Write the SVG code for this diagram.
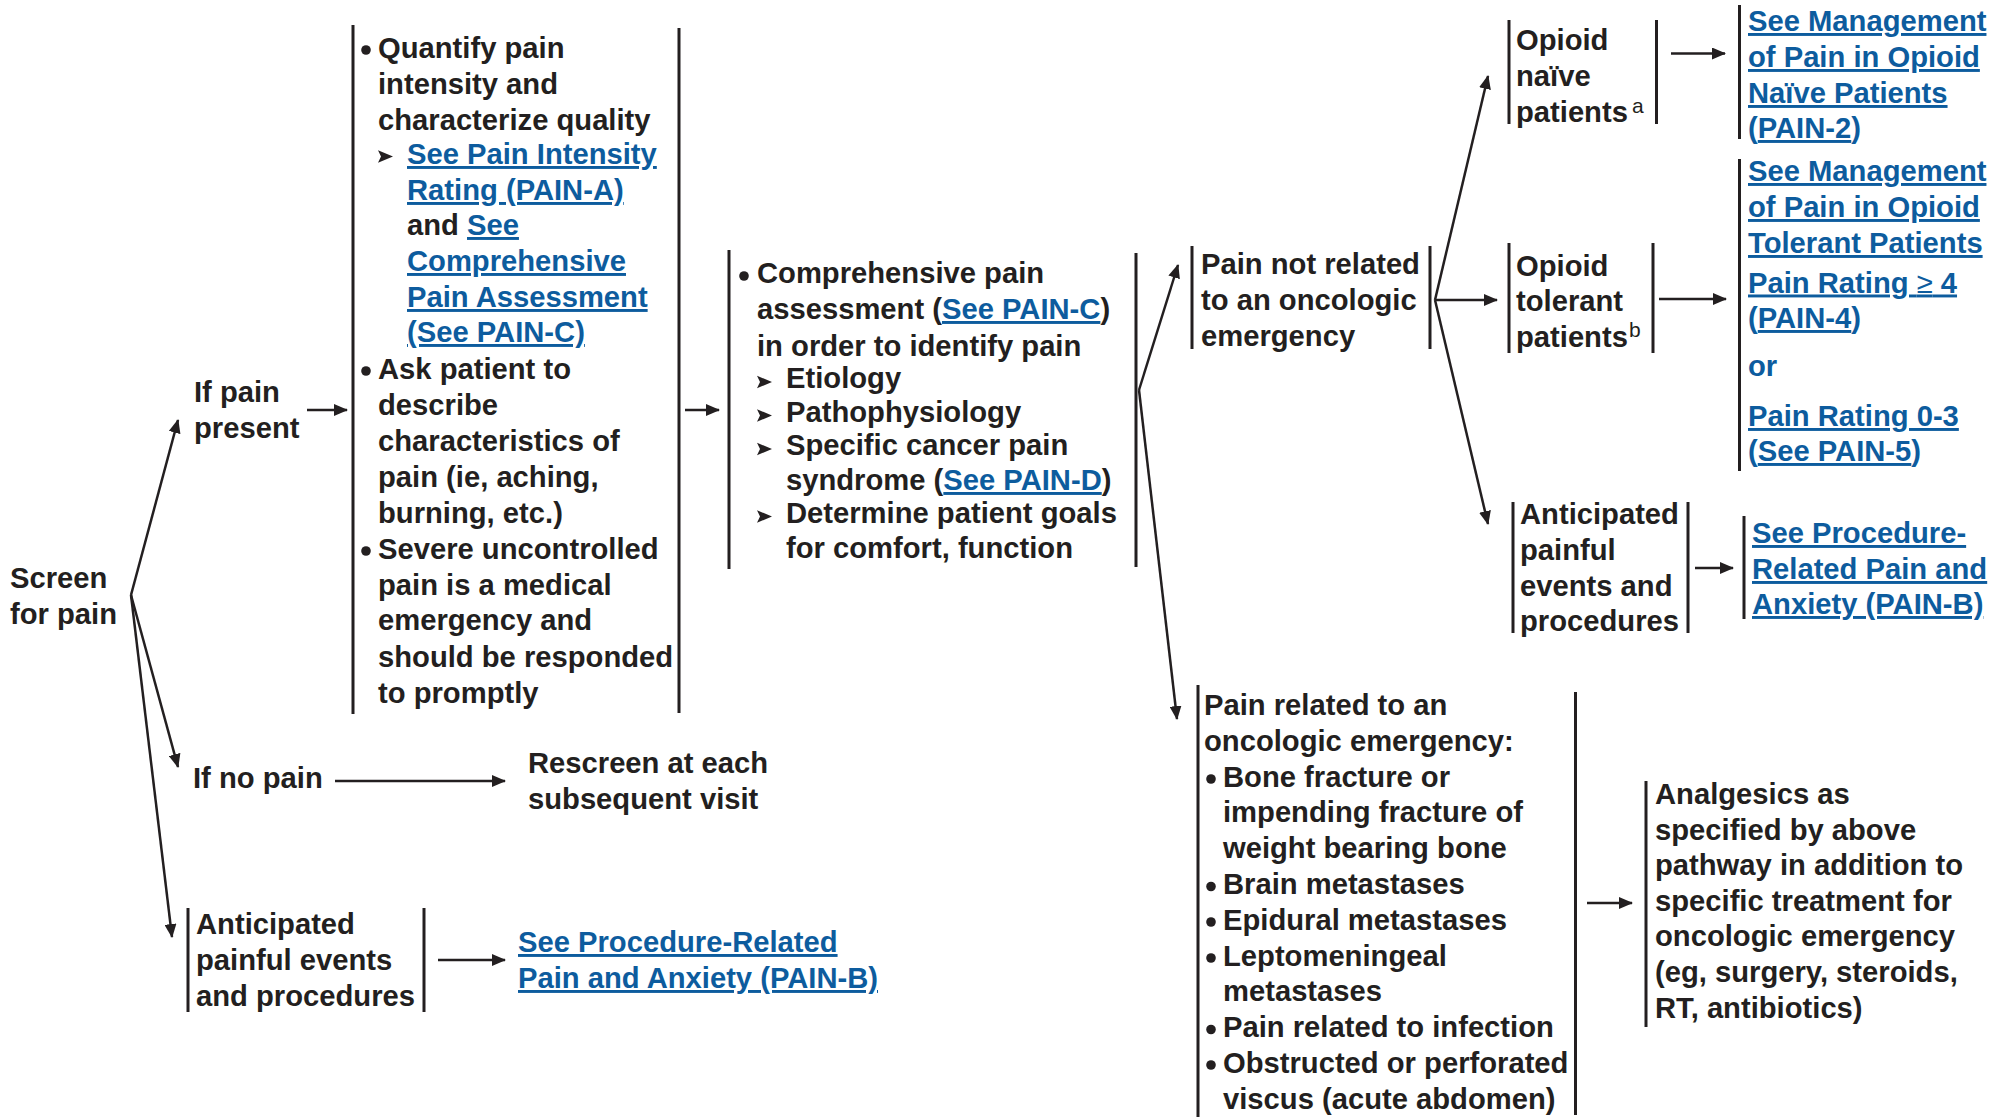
<svg xmlns="http://www.w3.org/2000/svg" xmlns:xlink="http://www.w3.org/1999/xlink" width="2002" height="1117" viewBox="0 0 2002 1117">
  <style>
    .t { font-family: "Liberation Sans", Arial, Helvetica, sans-serif; font-weight: 700; font-size: 29.2px; fill: #231f20; }
    .blue { fill: #0d5c9e; }
    .lk { fill: #0d5c9e; text-decoration: underline; }
    .sup { font-size: 21px; font-weight: 400; }
    .thin { font-weight: 400; }
    .bar { stroke: #231f20; stroke-width: 3; fill: none; }
    .conn { stroke: #231f20; stroke-width: 2.5; fill: none; marker-end: url(#ah); }
    .dot { fill: #231f20; }
  </style>
  <defs>
    <marker id="ah" markerUnits="userSpaceOnUse" markerWidth="15" markerHeight="12" refX="13" refY="6" orient="auto">
      <path d="M0,0 L14,6 L0,12 z" fill="#231f20"/>
    </marker>
    <path id="tri" d="M0,-6.3 L15,0 L0,6.3 L3,0 z" fill="#231f20"/>
  </defs>

  <rect width="2002" height="1117" fill="#ffffff"/>

  <!-- Connectors -->
  <g id="connectors">
    <line class="conn" x1="131" y1="595" x2="178" y2="420"/>
    <line class="conn" x1="131" y1="595" x2="178" y2="767"/>
    <line class="conn" x1="131" y1="595" x2="172" y2="937"/>
    <line class="conn" x1="307" y1="410" x2="347" y2="410"/>
    <line class="conn" x1="685" y1="410" x2="719" y2="410"/>
    <line class="conn" x1="1139" y1="390" x2="1178" y2="265"/>
    <line class="conn" x1="1139" y1="390" x2="1177" y2="719"/>
    <line class="conn" x1="1435" y1="300" x2="1488" y2="76"/>
    <line class="conn" x1="1435" y1="300" x2="1497" y2="300"/>
    <line class="conn" x1="1435" y1="300" x2="1488" y2="524"/>
    <line class="conn" x1="1671" y1="53.5" x2="1725" y2="53.5"/>
    <line class="conn" x1="1659" y1="299" x2="1726" y2="299"/>
    <line class="conn" x1="1695" y1="568" x2="1733" y2="568"/>
    <line class="conn" x1="335" y1="781" x2="505" y2="781"/>
    <line class="conn" x1="438" y1="960" x2="505" y2="960"/>
    <line class="conn" x1="1587" y1="903" x2="1632" y2="903"/>
  </g>

  <!-- Screen for pain -->
  <g id="screen">
    <text class="t"><tspan x="10" y="588">Screen</tspan><tspan x="10" y="624">for pain</tspan></text>
  </g>

  <!-- If pain present -->
  <g id="if-pain">
    <text class="t"><tspan x="194" y="402">If pain</tspan><tspan x="194" y="437.5">present</tspan></text>
  </g>

  <!-- Initial assessment -->
  <g id="assess">
    <line class="bar" x1="353" y1="25" x2="353" y2="714"/>
    <line class="bar" x1="679" y1="28" x2="679" y2="713"/>
    <circle class="dot" cx="366" cy="50" r="4.8"/>
    <circle class="dot" cx="366" cy="371" r="4.8"/>
    <circle class="dot" cx="366" cy="551" r="4.8"/>
    <use xlink:href="#tri" x="378" y="156.5"/>
    <text class="t">
      <tspan x="378" y="58">Quantify pain</tspan>
      <tspan x="378" y="94">intensity and</tspan>
      <tspan x="378" y="130">characterize quality</tspan>
      <tspan x="407" y="164" class="lk">See Pain Intensity</tspan>
      <tspan x="407" y="200" class="lk">Rating (PAIN-A)</tspan>
      <tspan x="407" y="235">and <tspan class="lk">See</tspan></tspan>
      <tspan x="407" y="271" class="lk">Comprehensive</tspan>
      <tspan x="407" y="307" class="lk">Pain Assessment</tspan>
      <tspan x="407" y="342" class="lk">(See PAIN-C)</tspan>
      <tspan x="378" y="379">Ask patient to</tspan>
      <tspan x="378" y="415">describe</tspan>
      <tspan x="378" y="451">characteristics of</tspan>
      <tspan x="378" y="487">pain (ie, aching,</tspan>
      <tspan x="378" y="523">burning, etc.)</tspan>
      <tspan x="378" y="559">Severe uncontrolled</tspan>
      <tspan x="378" y="595">pain is a medical</tspan>
      <tspan x="378" y="630">emergency and</tspan>
      <tspan x="378" y="667">should be responded</tspan>
      <tspan x="378" y="703">to promptly</tspan>
    </text>
  </g>

  <!-- Comprehensive assessment -->
  <g id="comprehensive">
    <line class="bar" x1="729" y1="250" x2="729" y2="569"/>
    <line class="bar" x1="1136" y1="253" x2="1136" y2="567"/>
    <circle class="dot" cx="744" cy="276" r="4.8"/>
    <use xlink:href="#tri" x="757" y="382"/>
    <use xlink:href="#tri" x="757" y="415.5"/>
    <use xlink:href="#tri" x="757" y="449"/>
    <use xlink:href="#tri" x="757" y="516.5"/>
    <text class="t">
      <tspan x="757" y="283">Comprehensive pain</tspan>
      <tspan x="757" y="319">assessment (<tspan class="lk">See PAIN-C</tspan>)</tspan>
      <tspan x="757" y="356">in order to identify pain</tspan>
      <tspan x="786" y="388">Etiology</tspan>
      <tspan x="786" y="422">Pathophysiology</tspan>
      <tspan x="786" y="455">Specific cancer pain</tspan>
      <tspan x="786" y="490">syndrome (<tspan class="lk">See PAIN-D</tspan>)</tspan>
      <tspan x="786" y="523">Determine patient goals</tspan>
      <tspan x="786" y="558">for comfort, function</tspan>
    </text>
  </g>

  <!-- Pain not related to an oncologic emergency -->
  <g id="not-emergency">
    <line class="bar" x1="1192" y1="246" x2="1192" y2="349"/>
    <line class="bar" x1="1430" y1="246" x2="1430" y2="349"/>
    <text class="t"><tspan x="1201" y="274">Pain not related</tspan><tspan x="1201" y="310">to an oncologic</tspan><tspan x="1201" y="346">emergency</tspan></text>
  </g>

  <!-- Opioid naive patients -->
  <g id="naive">
    <line class="bar" x1="1509" y1="20" x2="1509" y2="124"/>
    <line class="bar" x1="1656.5" y1="20" x2="1656.5" y2="124"/>
    <text class="t"><tspan x="1516" y="50">Opioid</tspan><tspan x="1516" y="86">naïve</tspan><tspan x="1516" y="122">patients</tspan></text>
    <text class="t sup" x="1632" y="113">a</text>
  </g>

  <!-- Link: naive management -->
  <g id="naive-link">
    <line class="bar" x1="1739.5" y1="5" x2="1739.5" y2="139"/>
    <text class="t blue">
      <tspan x="1748" y="31" class="lk">See Management</tspan>
      <tspan x="1748" y="67" class="lk">of Pain in Opioid</tspan>
      <tspan x="1748" y="103" class="lk">Naïve Patients</tspan>
      <tspan x="1748" y="138">(<tspan class="lk">PAIN-2</tspan>)</tspan>
    </text>
  </g>

  <!-- Opioid tolerant patients -->
  <g id="tolerant">
    <line class="bar" x1="1509" y1="243" x2="1509" y2="353"/>
    <line class="bar" x1="1653" y1="243" x2="1653" y2="353"/>
    <text class="t"><tspan x="1516" y="276">Opioid</tspan><tspan x="1516" y="311">tolerant</tspan><tspan x="1516" y="347">patients</tspan></text>
    <text class="t sup" x="1629" y="337">b</text>
  </g>

  <!-- Link: tolerant management -->
  <g id="tolerant-link">
    <line class="bar" x1="1739.5" y1="159" x2="1739.5" y2="471"/>
    <text class="t blue">
      <tspan x="1748" y="181" class="lk">See Management</tspan>
      <tspan x="1748" y="217" class="lk">of Pain in Opioid</tspan>
      <tspan x="1748" y="253" class="lk">Tolerant Patients</tspan>
      <tspan x="1748" y="292.5" class="lk">Pain Rating <tspan class="thin">≥</tspan> 4</tspan>
      <tspan x="1748" y="328">(<tspan class="lk">PAIN-4</tspan>)</tspan>
      <tspan x="1748" y="376">or</tspan>
      <tspan x="1748" y="426" class="lk">Pain Rating 0-3</tspan>
      <tspan x="1748" y="461">(<tspan class="lk">See PAIN-5</tspan>)</tspan>
    </text>
  </g>

  <!-- Anticipated painful events (right) -->
  <g id="anticipated-right">
    <line class="bar" x1="1513" y1="502" x2="1513" y2="633"/>
    <line class="bar" x1="1688" y1="502" x2="1688" y2="633"/>
    <text class="t"><tspan x="1520" y="524">Anticipated</tspan><tspan x="1520" y="560">painful</tspan><tspan x="1520" y="596">events and</tspan><tspan x="1520" y="631">procedures</tspan></text>
  </g>

  <!-- Link: procedure-related pain (right) -->
  <g id="procedure-link-right">
    <line class="bar" x1="1744" y1="516" x2="1744" y2="619"/>
    <text class="t blue">
      <tspan x="1752" y="543" class="lk">See Procedure-</tspan>
      <tspan x="1752" y="579" class="lk">Related Pain and</tspan>
      <tspan x="1752" y="614" class="lk">Anxiety (PAIN-B)</tspan>
    </text>
  </g>

  <!-- If no pain -->
  <g id="no-pain">
    <text class="t" x="193" y="788">If no pain</text>
  </g>

  <!-- Rescreen -->
  <g id="rescreen">
    <text class="t"><tspan x="528" y="773">Rescreen at each</tspan><tspan x="528" y="809">subsequent visit</tspan></text>
  </g>

  <!-- Anticipated painful events (left) -->
  <g id="anticipated-left">
    <line class="bar" x1="188" y1="908" x2="188" y2="1012"/>
    <line class="bar" x1="424" y1="908" x2="424" y2="1012"/>
    <text class="t"><tspan x="196" y="934">Anticipated</tspan><tspan x="196" y="970">painful events</tspan><tspan x="196" y="1006">and procedures</tspan></text>
  </g>

  <!-- Link: procedure-related pain (left) -->
  <g id="procedure-link-left">
    <text class="t blue">
      <tspan x="518" y="952" class="lk">See Procedure-Related</tspan>
      <tspan x="518" y="988" class="lk">Pain and Anxiety (PAIN-B)</tspan>
    </text>
  </g>

  <!-- Pain related to an oncologic emergency -->
  <g id="emergency">
    <line class="bar" x1="1198" y1="685" x2="1198" y2="1117"/>
    <line class="bar" x1="1575.5" y1="692" x2="1575.5" y2="1115"/>
    <circle class="dot" cx="1211" cy="779" r="4.8"/>
    <circle class="dot" cx="1211" cy="886.5" r="4.8"/>
    <circle class="dot" cx="1211" cy="922" r="4.8"/>
    <circle class="dot" cx="1211" cy="958" r="4.8"/>
    <circle class="dot" cx="1211" cy="1029.5" r="4.8"/>
    <circle class="dot" cx="1211" cy="1065" r="4.8"/>
    <text class="t">
      <tspan x="1204" y="715">Pain related to an</tspan>
      <tspan x="1204" y="751">oncologic emergency:</tspan>
      <tspan x="1223" y="787">Bone fracture or</tspan>
      <tspan x="1223" y="822">impending fracture of</tspan>
      <tspan x="1223" y="858">weight bearing bone</tspan>
      <tspan x="1223" y="894">Brain metastases</tspan>
      <tspan x="1223" y="930">Epidural metastases</tspan>
      <tspan x="1223" y="966">Leptomeningeal</tspan>
      <tspan x="1223" y="1001">metastases</tspan>
      <tspan x="1223" y="1037">Pain related to infection</tspan>
      <tspan x="1223" y="1073">Obstructed or perforated</tspan>
      <tspan x="1223" y="1109">viscus (acute abdomen)</tspan>
    </text>
  </g>

  <!-- Analgesics -->
  <g id="analgesics">
    <line class="bar" x1="1646" y1="781" x2="1646" y2="1027"/>
    <text class="t">
      <tspan x="1655" y="804">Analgesics as</tspan>
      <tspan x="1655" y="840">specified by above</tspan>
      <tspan x="1655" y="875">pathway in addition to</tspan>
      <tspan x="1655" y="911">specific treatment for</tspan>
      <tspan x="1655" y="946">oncologic emergency</tspan>
      <tspan x="1655" y="982">(eg, surgery, steroids,</tspan>
      <tspan x="1655" y="1018">RT, antibiotics)</tspan>
    </text>
  </g>
</svg>
